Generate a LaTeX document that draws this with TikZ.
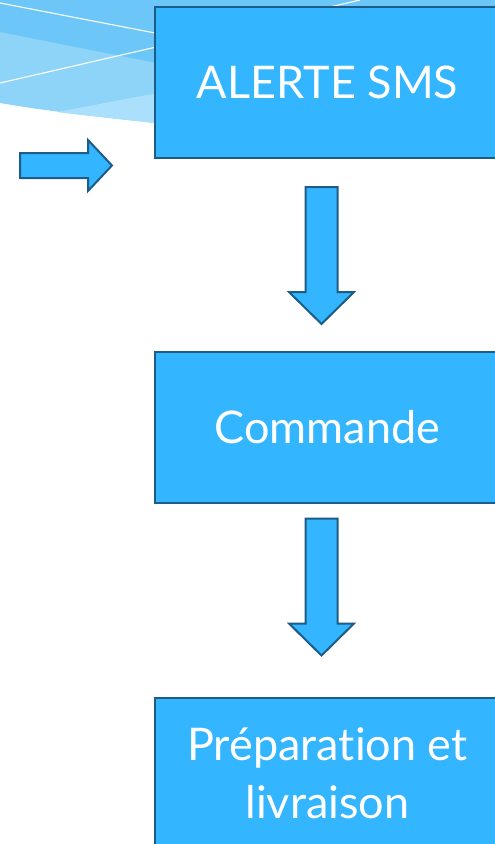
\documentclass[tikz,border=0pt]{standalone}
\usepackage{fontspec}
\setmainfont{Lato}[Ligatures=NoCommon]
\usepackage{tikz}
\usetikzlibrary{positioning, calc}
\usepackage{xcolor}

\definecolor{boxblue}{HTML}{33B5FF}
\definecolor{boxedge}{HTML}{1D5C86}
\definecolor{wavetop}{HTML}{6CC6F7}
\definecolor{wavemid}{HTML}{8ED4F9}
\definecolor{wavelow}{HTML}{AAE0FB}

\tikzset{
  etape/.style={draw=boxedge, fill=boxblue, line width=2.5pt, minimum width=345pt,
    minimum height=151pt, text=white, align=center,
    font=\fontsize{45pt}{58pt}\selectfont},
  flechebloc/.style={draw=boxedge, fill=boxblue, line width=2pt, line join=miter}
}

\begin{document}
\begin{tikzpicture}[x=1pt, y=-1pt]
      \useasboundingbox (0, 0) rectangle (495, 844);
      \clip (0, 0) rectangle (495, 844);

      % vague du fond
      \fill[wavemid] (0, 0) -- (495, 0) -- (495, 150) -- (155, 123) .. controls (90, 116) and (40, 110) .. (0, 103) -- cycle;
      \fill[wavetop] (0, 0) -- (495, 0) -- (495, 130) -- (0, 32) -- cycle;
      \fill[wavelow] (57, 112) -- (200, 85) -- (495, 40) -- (495, 150) -- (155, 123) .. controls (110, 118) and (80, 115) .. (57, 112) -- cycle;
      \draw[white, line width=1.1pt] (0, 3) -- (155, 33);
      \draw[white, line width=1.1pt] (0, 83) -- (360, 0);

      % etapes
      \node[etape] (alerte) at (327.5, 82.5) {ALERTE SMS};
      \node[etape, below=191.5pt of alerte] (commande) {Commande};
      \node[etape, below=192.5pt of commande] (livraison) {Préparation et\\livraison};

      % fleches
      \draw[flechebloc] (20, 153) -- (88, 153) -- (88, 140) -- (112, 165.5) -- (88, 191) -- (88, 178) -- (20, 178) -- cycle;
      \draw[flechebloc, shift={($(alerte.south)!0.5!(commande.north)+(-6pt, 0)$)}]
        (-16, -68) -- (16, -68) -- (16, 37) -- (32.5, 37) -- (0, 69) -- (-32.5, 37) -- (-16, 37) -- cycle;
      \draw[flechebloc, shift={($(commande.south)!0.5!(livraison.north)+(-6pt, 14pt)$)}]
        (-16, -68) -- (16, -68) -- (16, 37) -- (32.5, 37) -- (0, 69) -- (-32.5, 37) -- (-16, 37) -- cycle;

    \end{tikzpicture}
\end{document}
